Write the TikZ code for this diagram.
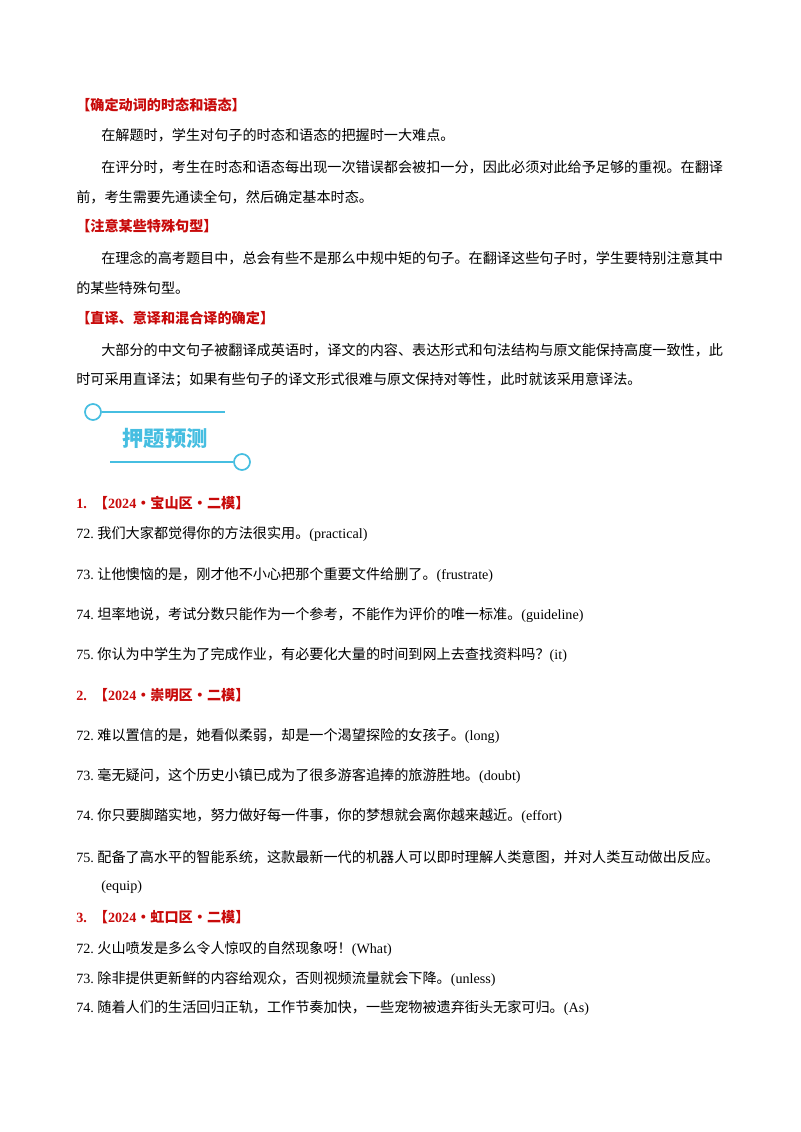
\documentclass[tikz,border=0pt]{standalone}
\usepackage{fontspec}
\setmainfont{Liberation Serif}
\newfontfamily\zhf{Noto Sans CJK SC}
\newcommand{\zh}[1]{{\zhf #1}}
\definecolor{hred}{RGB}{200,10,10}
\definecolor{bannerblue}{RGB}{70,190,225}
\begin{document}
\begin{tikzpicture}[x=0.75pt,y=-0.75pt,
  txt/.style={anchor=west,inner sep=0pt,font=\fontsize{10.6pt}{12pt}\selectfont},
  hd/.style={txt,text=hred,font=\fontsize{10.6pt}{12pt}\selectfont\bfseries}]
\useasboundingbox (0,0) rectangle (800,1132);
\fill[white] (0,0) rectangle (800,1132);
\node[hd] (h1) at (76,105) {\zh{【确定动词的时态和语态】}};
\node[txt] (p1) at (101,135) {\zh{在解题时，学生对句子的时态和语态的把握时一大难点。}};
\node[txt] (p2) at (101,167) {\zh{在评分时，考生在时态和语态每出现一次错误都会被扣一分，因此必须对此给予足够的重视。在翻译}};
\node[txt] (p3) at (76,197) {\zh{前，考生需要先通读全句，然后确定基本时态。}};
\node[hd] (h2) at (76,226) {\zh{【注意某些特殊句型】}};
\node[txt] (p4) at (101,258) {\zh{在理念的高考题目中，总会有些不是那么中规中矩的句子。在翻译这些句子时，学生要特别注意其中}};
\node[txt] (p5) at (76,288) {\zh{的某些特殊句型。}};
\node[hd] (h3) at (76,318) {\zh{【直译、意译和混合译的确定】}};
\node[txt] (p6) at (101,350) {\zh{大部分的中文句子被翻译成英语时，译文的内容、表达形式和句法结构与原文能保持高度一致性，此}};
\node[txt] (p7) at (76,380) {\zh{时可采用直译法；如果有些句子的译文形式很难与原文保持对等性，此时就该采用意译法。}};
% banner
\node[draw=bannerblue,circle,line width=1.3pt,minimum size=12pt,inner sep=0pt] (c1) at (93,412) {};
\node[draw=bannerblue,circle,line width=1.3pt,minimum size=12pt,inner sep=0pt] (c2) at (242,462) {};
\coordinate (l1) at (225,412);
\coordinate (l2) at (110,462);
\draw[bannerblue,line width=1.3pt] (c1.east) -- (l1);
\draw[bannerblue,line width=1.3pt] (l2) -- (c2.west);
\node[inner sep=0pt,text=bannerblue,font=\fontsize{16pt}{18pt}\selectfont\bfseries] (bt) at (165,438) {\zh{押题预测}};
% section 1
\node[hd] (s1) at (76,503) {1.\ \ \zh{【}2024\zh{·宝山区·二模】}};
\node[txt] (q1) at (76,534) {72.\ \zh{我们大家都觉得你的方法很实用。}(practical)};
\node[txt] (q2) at (76,575) {73.\ \zh{让他懊恼的是，刚才他不小心把那个重要文件给删了。}(frustrate)};
\node[txt] (q3) at (76,615) {74.\ \zh{坦率地说，考试分数只能作为一个参考，不能作为评价的唯一标准。}(guideline)};
\node[txt] (q4) at (76,655) {75.\ \zh{你认为中学生为了完成作业，有必要化大量的时间到网上去查找资料吗？}(it)};
% section 2
\node[hd] (s2) at (76,695) {2.\ \ \zh{【}2024\zh{·崇明区·二模】}};
\node[txt] (r1) at (76,736) {72.\ \zh{难以置信的是，她看似柔弱，却是一个渴望探险的女孩子。}(long)};
\node[txt] (r2) at (76,776) {73.\ \zh{毫无疑问，这个历史小镇已成为了很多游客追捧的旅游胜地。}(doubt)};
\node[txt] (r3) at (76,816) {74.\ \zh{你只要脚踏实地，努力做好每一件事，你的梦想就会离你越来越近。}(effort)};
\node[txt] (r4) at (76,857) {75.\ \zh{配备了高水平的智能系统，这款最新一代的机器人可以即时理解人类意图，并对人类互动做出反应。}};
\node[txt] (r4b) at (101,887) {(equip)};
% section 3
\node[hd] (s3) at (76,917) {3.\ \ \zh{【}2024\zh{·虹口区·二模】}};
\node[txt] (t1) at (76,949) {72.\ \zh{火山喷发是多么令人惊叹的自然现象呀！}(What)};
\node[txt] (t2) at (76,979) {73.\ \zh{除非提供更新鲜的内容给观众，否则视频流量就会下降。}(unless)};
\node[txt] (t3) at (76,1008) {74.\ \zh{随着人们的生活回归正轨，工作节奏加快，一些宠物被遗弃街头无家可归。}(As)};
\end{tikzpicture}
\end{document}
